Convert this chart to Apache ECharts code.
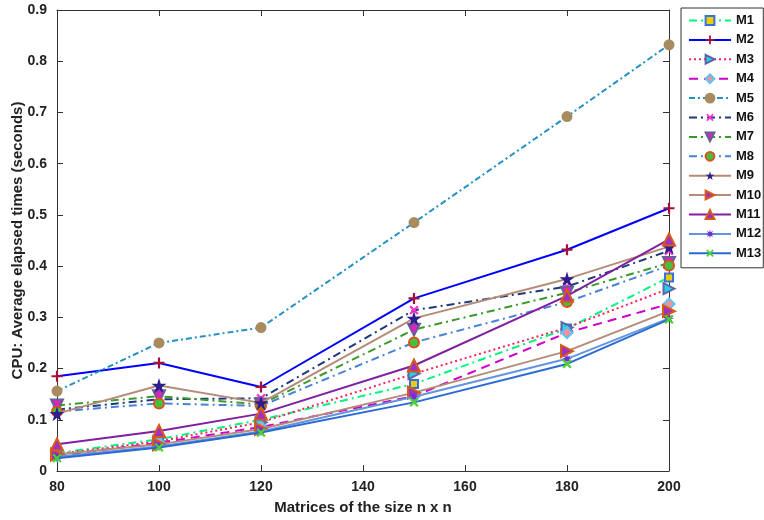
<!DOCTYPE html>
<html>
<head>
<meta charset="utf-8">
<script src="https://cdn.jsdelivr.net/npm/echarts@6/dist/echarts.min.js"></script>
<style>
  html, body { margin: 0; padding: 0; background: #fff; }
  #chart { width: 764px; height: 520px; }
</style>
</head>
<body>
<div id="chart"></div>
<script>
// Matrix sizes (n) on the x axis
const sizes = [80, 100, 120, 150, 180, 200];
const yTicks = [0, 0.1, 0.2, 0.3, 0.4, 0.5, 0.6, 0.7, 0.8, 0.9];

// Average CPU elapsed times (seconds) per method
const m1  = [0.035, 0.062, 0.100, 0.170, 0.278, 0.378];
const m2  = [0.185, 0.211, 0.164, 0.337, 0.432, 0.513];
const m3  = [0.033, 0.058, 0.095, 0.190, 0.280, 0.356];
const m4  = [0.030, 0.055, 0.086, 0.146, 0.270, 0.326];
const m5  = [0.156, 0.250, 0.280, 0.485, 0.692, 0.832];
const m6  = [0.120, 0.140, 0.142, 0.314, 0.360, 0.430];
const m7  = [0.128, 0.146, 0.130, 0.276, 0.348, 0.406];
const m8  = [0.116, 0.132, 0.127, 0.251, 0.330, 0.401];
const m9  = [0.112, 0.167, 0.133, 0.298, 0.375, 0.438];
const m10 = [0.032, 0.052, 0.082, 0.153, 0.234, 0.312];
const m11 = [0.052, 0.078, 0.112, 0.206, 0.342, 0.452];
const m12 = [0.028, 0.048, 0.077, 0.145, 0.219, 0.298];
const m13 = [0.025, 0.046, 0.075, 0.134, 0.209, 0.296];

const names = ['M1','M2','M3','M4','M5','M6','M7','M8','M9','M10','M11','M12','M13'];
const values = [m1,m2,m3,m4,m5,m6,m7,m8,m9,m10,m11,m12,m13];

// Marker shapes
const PLUS = 'path://M4,0H6V4H10V6H6V10H4V6H0V4H4Z';
const STAR = 'path://M50,0L61,35L98,35L68,57L79,91L50,70L21,91L32,57L2,35L39,35Z';
const BURST = 'path://M50,0L58,30L85,15L70,42L100,50L70,58L85,85L58,70L50,100L42,70L15,85L30,58L0,50L30,42L15,15L42,30Z';

const styles = [
  { line: '#00f57a', type: [8,4,2,4], symbol: 'rect', size: 8, fill: '#e8d000', border: '#3a6fe0' },
  { line: '#0000ff', type: 'solid', symbol: PLUS, size: 11, fill: '#a3103c', border: '#a3103c', bw: 0 },
  { line: '#ff1f5a', type: [2,3], symbol: 'triangle', rotate: -90, size: 11, fill: '#22d0e8', border: '#6264a8' },
  { line: '#cc00cc', type: [9,6], symbol: 'diamond', size: 11, fill: '#f5909c', border: '#5cc4f2' },
  { line: '#2490c4', type: [6,3,2,3], symbol: 'circle', size: 9, fill: '#a88c60', border: '#a88c60' },
  { line: '#1f3a7a', type: [8,4,2,4], symbol: PLUS, rotate: 45, size: 11, fill: '#ff30d0', border: '#ff30d0', bw: 0 },
  { line: '#3c9a2c', type: [8,4,2,4], symbol: 'triangle', rotate: 180, size: 12, fill: '#e020c0', border: '#626296' },
  { line: '#4a82d8', type: [8,4,2,4], symbol: 'circle', size: 10, fill: '#44c040', border: '#e0501a' },
  { line: '#b48c78', type: 'solid', symbol: STAR, size: 15, fill: '#2e1e8c', border: '#2e1e8c', bw: 0 },
  { line: '#b48c78', type: 'solid', symbol: 'triangle', rotate: -90, size: 12, fill: '#a030c0', border: '#d85a18' },
  { line: '#8020a0', type: 'solid', symbol: 'triangle', size: 12, fill: '#a030c0', border: '#d85a18' },
  { line: '#6494dc', type: 'solid', symbol: BURST, size: 10, fill: '#7030d0', border: '#7030d0', bw: 0 },
  { line: '#2a6ad4', type: 'solid', symbol: PLUS, rotate: 45, size: 11, fill: '#4cd030', border: '#4cd030', bw: 0 }
];

const series = names.map((name, i) => {
  const s = styles[i];
  return {
    name: name,
    type: 'line',
    data: sizes.map((x, j) => [x, values[i][j]]),
    symbol: s.symbol,
    symbolSize: s.size,
    symbolRotate: s.rotate || 0,
    showAllSymbol: true,
    lineStyle: { color: s.line, width: 2, type: s.type },
    itemStyle: { color: s.fill, borderColor: s.border, borderWidth: s.bw === 0 ? 0 : 2 },
    emphasis: { disabled: true },
    animation: false,
    z: 2 + i
  };
});

const font = 'Liberation Sans, Arial, Helvetica, sans-serif';
const tickLabel = { fontFamily: font, fontWeight: 'bold', fontSize: 14, color: '#222' };

const chart = echarts.init(document.getElementById('chart'), null, { renderer: 'canvas' });
chart.setOption({
  backgroundColor: '#fff',
  animation: false,
  grid: { left: 57, right: 95, top: 10, bottom: 49, containLabel: false, outerBoundsMode: 'none' },
  legend: {
    orient: 'vertical',
    left: 681,
    top: 8,
    padding: [6, 2, 8, 7],
    itemWidth: 42,
    itemHeight: 11,
    itemGap: 6.4,
    backgroundColor: '#fff',
    borderColor: '#333',
    borderWidth: 1,
    borderRadius: 0,
    textStyle: { fontFamily: font, fontWeight: 'bold', fontSize: 13, color: '#111' },
    data: names
  },
  xAxis: [{
    type: 'value', min: 80, max: 200, interval: 20,
    name: 'Matrices of the size n x n', nameLocation: 'middle', nameGap: 29,
    nameMoveOverlap: false,
    nameTextStyle: { fontFamily: font, fontWeight: 'bold', fontSize: 15, color: '#222' },
    axisLine: { onZero: false, lineStyle: { color: '#333', width: 1 } },
    axisTick: { inside: true, length: 6, lineStyle: { color: '#333' } },
    axisLabel: Object.assign({ margin: 9 }, tickLabel),
    splitLine: { show: false }
  }, {
    type: 'value', min: 80, max: 200, interval: 20, position: 'top',
    axisLine: { onZero: false, lineStyle: { color: '#333', width: 1 } },
    axisTick: { inside: true, length: 6, lineStyle: { color: '#333' } },
    axisLabel: { show: false }, splitLine: { show: false }
  }],
  yAxis: [{
    type: 'value', min: 0, max: 0.9, interval: 0.1,
    name: 'CPU: Average elapsed times (seconds)', nameLocation: 'middle', nameGap: 32,
    nameMoveOverlap: false,
    nameTextStyle: { fontFamily: font, fontWeight: 'bold', fontSize: 15, color: '#222' },
    axisLine: { show: true, onZero: false, lineStyle: { color: '#333', width: 1 } },
    axisTick: { show: true, inside: true, length: 6, lineStyle: { color: '#333' } },
    axisLabel: Object.assign({ margin: 10, formatter: v => {
      const t = yTicks.find(k => Math.abs(k - v) < 1e-9);
      return t === 0 ? '0' : String(t);
    } }, tickLabel),
    splitLine: { show: false }
  }, {
    type: 'value', min: 0, max: 0.9, interval: 0.1, position: 'right',
    axisLine: { show: true, onZero: false, lineStyle: { color: '#333', width: 1 } },
    axisTick: { show: true, inside: true, length: 6, lineStyle: { color: '#333' } },
    axisLabel: { show: false }, splitLine: { show: false }
  }],
  series: series
});
</script>
</body>
</html>
